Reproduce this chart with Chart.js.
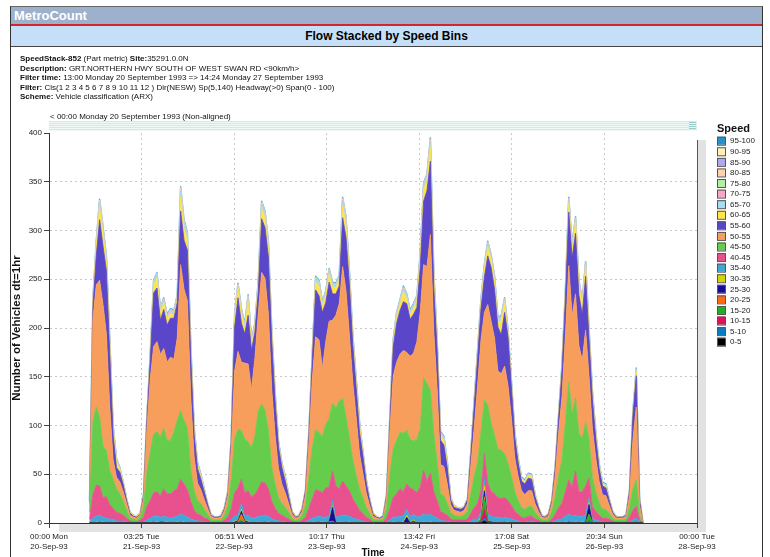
<!DOCTYPE html>
<html><head><meta charset="utf-8">
<script src="https://cdn.jsdelivr.net/npm/chart.js@4.4.1/dist/chart.umd.min.js"></script>
<style>
html,body{margin:0;padding:0;background:#fff;}
body{width:770px;height:557px;position:relative;overflow:hidden;font-family:"Liberation Sans",Arial,sans-serif;}
canvas{position:absolute;left:0;top:110px;}
#frame{position:absolute;left:10px;top:6px;width:751px;height:560px;border-left:1px solid #333;border-right:1px solid #333;border-top:1px solid #666;}
#hdr{position:absolute;left:11px;top:7px;width:751px;height:17px;background:#9DB1CC;color:#fff;font-weight:bold;font-size:13px;line-height:17px;padding-left:3px;box-sizing:border-box;}
#red{position:absolute;left:11px;top:24px;width:751px;height:2px;background:#D3262B;}
#ttl{position:absolute;left:11px;top:26px;width:751px;height:20px;background:#C6DFF8;border-bottom:1px solid #444;font-weight:bold;font-size:12px;line-height:20px;text-align:center;color:#000;}
#info{position:absolute;left:20px;top:54px;font-size:8px;line-height:9.6px;color:#111;white-space:nowrap;}
#nonal{position:absolute;left:50px;top:112px;font-size:8px;color:#111;white-space:nowrap;}
#scroll{position:absolute;left:49px;top:121px;width:648px;height:10px;background:repeating-linear-gradient(to bottom,#d3e8ea 0,#d3e8ea 1px,#f0f8f8 1px,#f0f8f8 2px);}
#sicon{position:absolute;left:689px;top:122px;width:7px;height:7px;background:repeating-linear-gradient(to bottom,#9cc 0,#9cc 1px,#e8f4f4 1px,#e8f4f4 2px);}
</style></head>
<body>
<canvas id="c" width="770" height="447"></canvas>
<div id="frame"></div>
<div id="hdr">MetroCount</div>
<div id="red"></div>
<div id="ttl">Flow Stacked by Speed Bins</div>
<div id="info">
<div><b>SpeedStack-852</b> (Part metric) <b>Site:</b>35291.0.0N</div>
<div><b>Description:</b> GRT.NORTHERN HWY SOUTH OF WEST SWAN RD &lt;90km/h&gt;</div>
<div><b>Filter time:</b> 13:00 Monday 20 September 1993 =&gt; 14:24 Monday 27 September 1993</div>
<div><b>Filter:</b> Cls(1 2 3 4 5 6 7 8 9 10 11 12 ) Dir(NESW) Sp(5,140) Headway(&gt;0) Span(0 - 100)</div>
<div><b>Scheme:</b> Vehicle classification (ARX)</div>
</div>
<div id="nonal">&lt; 00:00 Monday 20 September 1993 (Non-aligned)</div>
<div id="scroll"></div>
<div id="sicon"></div>
<script>
// hours after 00:00 Mon 20-Sep-93 of the first hourly bin
const START_HOUR = 12;

const bins = ['0-5','5-10','10-15','15-20','20-25','25-30','30-35','35-40','40-45','45-50',
              '50-55','55-60','60-65','65-70','70-75','75-80','80-85','85-90','90-95','95-100'];
const binColors = ['#000000','#0A7CC0','#E0105A','#22B022','#FF6A10','#1A0A98','#D4D400','#3FA8D8','#E8508E','#66CC4C',
                   '#F89E5C','#5A46C8','#FFE44A','#A9DCF0','#F6A8C8','#B4EEA4','#FFD2B0','#B0A8EE','#FFF2B4','#2A90CA'];

const tickHours = [0, 27.4333, 54.85, 82.2833, 109.7, 137.1333, 164.5667, 192];
const tickLabels = [['00:00 Mon','20-Sep-93'],['03:25 Tue','21-Sep-93'],['06:51 Wed','22-Sep-93'],['10:17 Thu','23-Sep-93'],
                    ['13:42 Fri','24-Sep-93'],['17:08 Sat','25-Sep-93'],['20:34 Sun','26-Sep-93'],['00:00 Tue','28-Sep-93']];

// each row = 10 hourly bins (h12-21, h22-31, ... h162-171, h172-176)
const s0_5 = [
0,0,0,0,0,0,0,0,0,0, 0,0,0,0,0,0,0,0,0,0, 0,0,0,0,0,0,0,0,0,0, 0,0,0,0,0,0,0,0,0,0,
0,0,0,0,0,0,0,0,0,0, 0,0,0,0,0,0,0,0,0,0, 0,0,0,0,0,0,0,0,0,0, 0,0,0,0,0,0,0,0,0,0,
0,0,0,0,0,0,0,0,0,0, 0,0,0,0,0,0,0,0,0,0, 0,0,0,0,0,0,0,0,0,0, 0,0,0,0,0,0,0,2,0,0,
0,0,0,0,0,0,0,0,0,0, 0,0,0,0,0,0,0,0,0,0, 0,0,0,0,0,0,0,0,0,0, 0,0,0,0,0,0,0,0,0,0,
0,0,0,0,0];
const s5_10 = [
0,0,0,0,0,0,0,0,0,0, 0,0,0,0,0,0,0,0,0,0, 0,0,0,0,0,0,0,0,0,0, 0,0,0,0,0,0,0,0,0,0,
0,0,0,0,0,1,0,0,0,0, 0,0,0,0,0,0,0,0,0,0, 0,0,0,0,0,0,0,0,0,0, 0,0,1,0,0,0,0,0,0,0,
0,0,0,0,0,0,0,0,0,0, 0,0,0,0,0,0,0,0,0,0, 0,0,0,0,0,0,0,0,0,0, 0,0,0,0,0,0,0,3,0,0,
0,0,0,0,0,0,0,0,0,0, 0,0,0,0,0,0,0,0,0,0, 0,0,0,0,0,0,0,0,1,0, 0,0,0,0,0,0,0,0,0,0,
0,0,0,0,0];
const s10_15 = [
0,0,0,0,0,0,0,0,0,0, 0,0,0,0,0,0,0,0,0,0, 0,0,0,0,0,0,0,0,0,0, 0,0,0,0,0,0,0,0,0,0,
0,0,0,0,0,1,0,0,0,0, 0,0,0,0,0,0,0,0,0,0, 0,0,0,0,0,0,0,0,0,0, 0,0,0,0,0,0,0,0,0,0,
0,0,0,0,0,0,0,0,0,0, 0,0,0,0,0,0,0,0,0,0, 0,0,0,0,0,0,0,0,0,0, 0,0,0,0,0,0,2,9,0,0,
0,0,0,0,0,0,0,0,0,0, 0,0,0,0,0,0,0,0,0,0, 0,0,0,0,0,0,0,0,1,0, 0,0,0,0,0,0,0,0,0,0,
0,0,0,0,0];
const s15_20 = [
0,0,0,0,0,0,0,0,0,0, 0,0,0,0,0,0,0,0,0,0, 0,0,0,0,0,0,0,0,0,0, 0,0,0,0,0,0,0,0,0,0,
0,0,0,0,1,1,0,0,0,0, 0,0,0,0,0,0,0,0,0,0, 0,0,0,0,0,0,0,0,0,0, 0,0,0,0,0,0,0,0,0,0,
0,0,0,0,0,0,0,0,0,0, 0,0,0,0,0,0,0,0,0,0, 0,0,0,0,0,0,0,0,0,0, 0,0,0,0,0,0,2,10,1,0,
0,0,0,0,0,0,0,0,0,0, 0,0,0,0,0,0,0,0,0,0, 0,0,0,0,0,0,0,0,7,0, 0,0,0,0,0,0,0,0,0,0,
0,0,0,0,0];
const s20_25 = [
0,0,0,1,0,0,0,0,0,0, 0,0,0,0,0,0,0,0,0,1, 0,0,1,0,0,0,0,1,0,0, 0,0,0,0,0,0,0,0,0,0,
0,0,0,0,0,6,1,0,0,0, 0,0,1,0,0,0,0,0,0,0, 0,0,0,0,0,0,0,0,1,0, 0,1,1,0,0,0,1,0,0,0,
0,0,0,0,0,0,0,0,0,0, 0,0,1,0,0,0,1,0,0,0, 0,0,1,0,0,0,0,0,0,0, 0,0,0,0,0,0,0,3,0,0,
0,0,0,1,0,0,0,0,0,0, 0,0,0,0,0,0,0,0,0,0, 0,0,0,0,0,1,0,0,0,0, 0,0,0,0,0,0,0,0,0,0,
0,0,1,0,0];
const s25_30 = [
0,0,0,0,0,0,0,0,0,0, 0,0,0,0,0,0,0,0,0,0, 0,1,0,0,0,0,0,0,0,0, 0,0,0,0,0,0,0,0,0,0,
0,0,0,1,1,3,1,1,0,0, 0,0,0,0,0,0,0,0,0,0, 0,0,0,0,0,0,0,0,0,0, 0,0,14,0,0,0,0,0,0,0,
0,0,0,0,0,0,0,0,0,0, 0,0,0,0,6,0,1,0,0,0, 0,0,0,0,0,0,0,0,0,0, 0,0,0,0,0,0,0,6,1,1,
0,0,0,0,0,0,0,0,0,0, 0,0,0,0,0,0,0,0,0,0, 0,0,1,0,0,0,0,1,10,0, 0,0,0,0,0,0,0,0,0,0,
0,0,0,0,0];
const s30_35 = [
0,0,1,0,1,0,0,1,0,0, 0,0,0,0,0,0,0,0,1,0, 1,0,0,1,0,0,1,0,1,0, 0,0,0,0,0,0,0,0,0,0,
0,0,0,1,0,2,0,1,0,0, 1,0,0,1,0,0,0,0,0,0, 0,0,0,0,0,0,1,0,0,1, 0,0,1,0,1,0,0,1,0,0,
0,0,0,0,0,0,0,0,0,0, 1,0,0,1,2,0,1,0,0,1, 0,1,0,0,0,0,0,0,0,0, 0,0,0,0,1,0,2,5,1,0,
0,1,0,0,1,0,0,0,0,0, 0,0,0,0,0,0,0,0,0,1, 0,1,0,0,1,0,1,0,2,0, 0,0,0,0,0,0,0,0,0,0,
0,0,0,0,0];
const s35_40 = [
1,5,6,7,5,5,4,3,2,2, 2,1,0,0,0,1,1,3,4,6, 6,5,6,5,5,6,6,8,7,6, 4,3,2,2,1,1,0,0,0,0,
1,1,3,5,6,6,5,6,5,5, 6,7,7,6,4,3,2,2,1,1, 0,0,0,1,1,3,4,6,6,5, 6,6,6,6,6,8,7,6,5,4,
3,2,1,1,0,0,0,0,1,3, 5,6,6,6,6,6,6,6,7,8, 8,8,6,5,3,2,2,1,1,1, 1,1,1,2,3,4,5,8,6,6,
6,5,5,5,4,4,3,2,1,1, 2,2,1,1,0,0,0,1,2,3, 4,6,8,7,7,6,6,7,5,4, 3,2,1,1,1,0,0,0,0,0,
1,3,4,1,0];
const s40_45 = [
3,24,32,30,20,22,15,11,9,8, 6,4,2,1,1,2,5,14,18,24, 25,22,28,24,25,27,28,36,32,28, 18,10,7,6,4,3,1,1,1,1,
2,5,12,24,28,25,24,25,22,24, 28,35,33,28,18,12,8,6,5,3, 2,1,1,2,5,12,20,28,26,25, 30,30,30,32,28,35,30,26,20,15,
10,8,5,3,1,1,1,1,4,12, 20,24,28,25,26,30,25,25,30,45, 35,42,25,18,9,8,6,3,2,2, 2,2,3,8,12,16,22,25,32,25,
24,20,20,20,18,14,9,7,5,4, 5,5,3,2,1,1,1,3,7,12, 16,25,35,30,45,25,25,30,20,13, 9,6,4,4,3,2,1,1,1,1,
5,10,12,2,0];
const s45_50 = [
7,75,80,71,53,47,35,30,24,20, 14,8,3,3,2,3,10,35,50,60, 62,60,62,55,55,60,70,70,65,64, 32,20,14,12,9,5,3,2,2,2,
5,12,30,55,60,50,55,50,50,60, 80,80,75,60,35,25,16,12,10,7, 3,2,3,5,12,32,52,62,60,58, 65,70,70,80,90,85,70,55,40,30,
22,16,10,6,3,2,2,3,10,35, 50,55,58,60,55,50,50,55,60,95, 100,85,60,40,18,18,12,7,5,4, 4,5,8,20,32,42,60,55,80,70,
60,50,50,45,38,30,20,14,10,9, 10,10,7,4,2,2,3,8,18,32, 45,70,100,75,75,60,55,65,40,30, 20,13,9,9,6,3,2,2,2,3,
10,22,27,5,0];
const s50_55 = [
7,105,125,140,145,120,65,20,12,12, 10,7,3,2,2,2,9,45,75,90, 92,85,82,80,85,75,85,150,135,130, 75,35,18,14,10,6,3,2,2,3,
5,10,32,70,80,70,78,80,60,80, 100,135,135,120,80,50,30,20,15,9, 4,2,2,4,11,35,70,95,95,70, 85,100,85,95,100,135,130,105,80,60,
36,25,15,8,3,2,1,2,10,45, 75,80,80,85,80,85,90,100,120,116, 120,160,105,75,30,30,20,8,5,5, 4,5,8,30,50,80,95,90,103,105,
100,80,78,90,80,60,35,25,17,15, 16,16,9,5,3,2,3,8,22,45, 65,90,120,100,107,90,80,95,65,50, 35,22,15,14,8,4,2,2,2,3,
12,50,75,10,0];
const s55_60 = [
3,12,30,62,60,65,55,25,10,10, 7,3,2,1,1,1,3,9,20,55, 55,35,40,38,40,42,36,55,50,52, 42,23,15,11,8,4,1,1,1,1,
2,3,8,45,55,40,30,50,40,27, 22,55,52,58,50,35,22,17,12,7, 2,1,1,2,4,9,20,48,45,57, 40,40,27,22,18,50,55,52,38,30,
22,18,10,5,2,1,1,1,3,10, 30,40,45,50,50,38,40,35,45,65, 78,75,45,40,25,22,17,5,3,3, 3,3,4,11,23,28,32,36,50,55,
50,45,40,55,50,32,21,14,10,11, 13,12,7,4,1,1,2,3,8,15, 27,38,55,60,62,52,47,55,38,30, 20,13,9,8,5,2,1,1,1,1,
5,25,32,5,0];
const s60_65 = [
1,4,10,13,13,9,9,5,6,3, 2,1,1,1,1,1,1,1,3,8, 10,7,7,6,5,3,3,15,12,10, 7,4,3,3,2,1,1,0,0,1,
1,1,1,8,10,10,5,15,6,5, 6,10,10,9,7,5,3,3,3,2, 1,1,1,1,1,1,3,8,10,6, 7,8,7,6,6,12,13,8,6,5,
7,3,2,1,1,1,0,1,1,2, 4,6,6,10,5,4,6,7,10,12, 10,15,10,6,5,5,4,2,2,1, 1,1,1,2,3,4,5,8,9,8,
9,5,14,10,4,4,3,3,2,2, 3,3,2,1,1,1,1,1,1,2, 3,5,9,9,12,10,10,10,6,5, 4,3,2,2,1,1,1,0,0,1,
1,2,4,1,0];
const s65_70 = [
0,2,3,4,4,3,3,3,2,1, 1,1,0,0,0,0,0,1,2,3, 3,3,3,3,3,3,3,5,5,4, 3,2,2,1,1,0,0,0,0,0,
0,1,1,3,3,3,3,4,3,2, 3,4,4,4,3,2,2,1,1,1, 0,0,0,0,0,1,2,3,3,3, 3,3,3,3,3,5,5,3,3,3,
2,1,1,1,0,0,0,0,0,1, 2,3,3,4,3,3,3,3,4,4, 4,4,4,3,2,2,2,1,0,0, 0,0,0,1,2,2,3,3,4,3,
3,3,4,3,2,2,2,1,1,1, 1,1,1,0,0,0,0,0,1,1, 2,2,3,3,3,3,3,3,3,2, 2,1,1,1,1,0,0,0,0,0,
0,1,2,1,0];
const s70_75 = [
0,1,1,1,1,1,1,1,0,0, 0,0,0,0,0,0,0,0,0,1, 1,1,1,1,1,1,1,1,1,1, 1,1,0,0,0,0,0,0,0,0,
0,0,0,1,1,1,1,1,1,1, 1,1,1,1,1,1,0,0,0,0, 0,0,0,0,0,0,1,1,1,1, 1,1,1,1,1,1,1,1,1,1,
1,0,0,0,0,0,0,0,0,0, 1,1,1,1,1,1,1,1,1,1, 1,1,1,1,1,1,0,0,0,0, 0,0,0,0,0,1,1,1,1,1,
1,1,1,1,1,0,0,0,0,0, 0,0,0,0,0,0,0,0,0,0, 0,1,1,1,1,1,1,1,1,1, 0,0,0,0,0,0,0,0,0,0,
0,0,1,0,0];
const s75_80 = [
0,0,0,1,1,1,1,0,0,0, 0,0,0,0,0,0,0,0,0,0, 1,0,0,0,0,0,0,1,1,1, 1,0,0,0,0,0,0,0,0,0,
0,0,0,0,0,0,0,0,0,0, 0,1,1,1,0,0,0,0,0,0, 0,0,0,0,0,0,0,1,1,0, 0,1,0,0,0,1,1,1,0,0,
0,0,0,0,0,0,0,0,0,0, 0,0,0,0,0,0,0,0,0,1, 1,1,1,0,0,0,0,0,0,0, 0,0,0,0,0,0,0,0,0,0,
0,0,0,0,0,0,0,0,0,0, 0,0,0,0,0,0,0,0,0,0, 0,0,0,0,0,0,0,0,0,0, 0,0,0,0,0,0,0,0,0,0,
0,0,0,0,0];
const s80_85 = [
0,0,0,1,0,0,0,0,0,0, 0,0,0,0,0,0,0,0,0,0, 0,0,0,0,0,0,0,1,0,0, 0,0,0,0,0,0,0,0,0,0,
0,0,0,0,0,0,0,0,0,0, 0,1,0,0,0,0,0,0,0,0, 0,0,0,0,0,0,0,0,0,0, 0,0,0,0,0,1,0,0,0,0,
0,0,0,0,0,0,0,0,0,0, 0,0,0,0,0,0,0,0,0,0, 0,1,0,0,0,0,0,0,0,0, 0,0,0,0,0,0,0,0,0,0,
0,0,0,0,0,0,0,0,0,0, 0,0,0,0,0,0,0,0,0,0, 0,0,1,0,0,0,0,0,0,0, 0,0,0,0,0,0,0,0,0,0,
0,0,0,0,0];
const s85_90 = [
0,0,0,0,0,0,0,0,0,0, 0,0,0,0,0,0,0,0,0,0, 0,0,0,0,0,0,0,0,0,0, 0,0,0,0,0,0,0,0,0,0,
0,0,0,0,0,0,0,0,0,0, 0,0,0,0,0,0,0,0,0,0, 0,0,0,0,0,0,0,0,0,0, 0,0,0,0,0,0,0,0,0,0,
0,0,0,0,0,0,0,0,0,0, 0,0,0,0,0,0,0,0,0,0, 0,1,0,0,0,0,0,0,0,0, 0,0,0,0,0,0,0,0,0,0,
0,0,0,0,0,0,0,0,0,0, 0,0,0,0,0,0,0,0,0,0, 0,0,0,0,0,0,0,0,0,0, 0,0,0,0,0,0,0,0,0,0,
0,0,0,0,0];
const s90_95 = [
0,0,0,0,0,0,0,0,0,0, 0,0,0,0,0,0,0,0,0,0, 0,0,0,0,0,0,0,1,1,1, 0,0,0,0,0,0,0,0,0,0,
0,0,0,0,0,0,0,0,0,0, 0,0,0,0,0,0,0,0,0,0, 0,0,0,0,0,0,0,0,0,0, 0,0,0,0,0,0,0,0,0,0,
0,0,0,0,0,0,0,0,0,0, 0,0,0,0,0,0,0,0,0,0, 0,0,0,0,0,0,0,0,0,0, 0,0,0,0,0,0,0,0,0,0,
0,0,0,0,0,0,0,0,0,0, 0,0,0,0,0,0,0,0,0,0, 0,0,0,0,0,0,0,0,0,0, 0,0,0,0,0,0,0,0,0,0,
0,0,0,0,0];
const s95_100 = [
0,1,1,1,1,1,1,1,1,1, 0,0,0,0,0,0,0,1,1,1, 1,1,1,1,1,1,1,1,1,1, 1,1,1,1,0,0,0,0,0,0,
0,0,1,1,1,1,1,1,1,1, 1,1,1,1,1,1,1,1,1,0, 0,0,0,0,0,1,1,1,1,1, 1,1,1,1,1,1,1,1,1,1,
1,1,1,0,0,0,0,0,0,1, 1,1,1,1,1,1,1,1,1,1, 1,1,1,1,1,1,1,0,0,0, 0,0,0,0,1,1,1,1,1,1,
1,1,1,1,1,1,1,1,1,1, 1,1,0,0,0,0,0,0,0,1, 1,1,1,1,1,1,1,1,1,1, 1,1,1,1,0,0,0,0,0,0,
0,1,1,0,0];

const series = [s0_5,s5_10,s10_15,s15_20,s20_25,s25_30,s30_35,s35_40,s40_45,s45_50,
                s50_55,s55_60,s60_65,s65_70,s70_75,s75_80,s80_85,s85_90,s90_95,s95_100];

const FONT = '"Liberation Sans", Arial, sans-serif';
Chart.defaults.font.family = FONT;

const datasets = bins.map((b, i) => ({
  label: b,
  data: series[i].map((v, j) => ({x: START_HOUR + j, y: v})),
  backgroundColor: binColors[i],
  borderColor: i === bins.length - 1 ? '#55B4DE' : binColors[i],
  borderWidth: i === bins.length - 1 ? 1.5 : 0.8,
  fill: i === 0 ? 'origin' : '-1',
  pointRadius: 0,
  tension: 0
}));

const decor = {
  id: 'decor',
  beforeDraw(chart) {
    const {ctx, chartArea: a} = chart;
    ctx.save();
    ctx.fillStyle = '#E2E2E2';
    ctx.fillRect(a.left + 10, a.top + 7, a.right - a.left - 1, a.bottom - a.top + 2);
    ctx.fillStyle = '#FFFFFF';
    ctx.fillRect(a.left, a.top, a.right - a.left, a.bottom - a.top);
    ctx.restore();
  },
  afterDraw(chart) {
    const {ctx, chartArea: a} = chart;
    ctx.save();
    ctx.strokeStyle = '#555';
    ctx.lineWidth = 1;
    ctx.beginPath();
    ctx.moveTo(a.right + 0.5, a.top + 7);
    ctx.lineTo(a.right + 0.5, a.bottom);
    ctx.stroke();
    // legend
    const x0 = a.right + 20;
    ctx.fillStyle = '#111';
    ctx.font = 'bold 11px ' + FONT;
    ctx.textBaseline = 'middle';
    ctx.textAlign = 'left';
    ctx.fillText('Speed', x0, 18.5);
    ctx.font = '8px ' + FONT;
    const n = bins.length;
    for (let k = 0; k < n; k++) {
      const i = n - 1 - k;
      const y = 26.7 + k * 10.58;
      ctx.fillStyle = binColors[i];
      ctx.fillRect(x0, y, 8, 8);
      ctx.strokeStyle = '#555';
      ctx.strokeRect(x0 + 0.5, y + 0.5, 8, 8);
      ctx.fillStyle = '#222';
      ctx.fillText(bins[i], x0 + 13, y + 4.5);
    }
    ctx.restore();
  }
};

new Chart(document.getElementById('c'), {
  type: 'line',
  data: {datasets},
  options: {
    responsive: false,
    animation: false,
    devicePixelRatio: 1,
    layout: {padding: {top: 23, right: 73, left: 0, bottom: 0}},
    plugins: {legend: {display: false}, tooltip: {enabled: false}},
    elements: {line: {borderJoinStyle: 'round'}},
    scales: {
      x: {
        type: 'linear', min: 0, max: 192,
        afterFit: s => { s.height = 34; },
        afterBuildTicks: s => { s.ticks = tickHours.map(v => ({value: v})); },
        ticks: {
          autoSkip: false, maxRotation: 0, padding: 3, color: '#222',
          font: {size: 8, lineHeight: 1.35},
          callback: (v, i) => tickLabels[i]
        },
        grid: {
          color: c => (c.index === 0 || c.index === tickHours.length - 1) ? 'rgba(0,0,0,0)' : '#C8C8C8',
          tickColor: '#444', tickLength: 5, lineWidth: 1
        },
        border: {display: true, color: '#333', width: 1, dash: [2, 3]},
        title: {display: true, text: 'Time', color: '#111', font: {size: 10, weight: 'bold', lineHeight: 1.2}, padding: {top: 0, bottom: -2}}
      },
      y: {
        stacked: true, min: 0, max: 400,
        afterFit: s => { s.width = 49; },
        ticks: {stepSize: 50, padding: 2, color: '#222', font: {size: 8}},
        grid: {
          color: c => (c.tick && (c.tick.value === 0 || c.tick.value === 400)) ? 'rgba(0,0,0,0)' : '#C8C8C8',
          tickColor: '#444', tickLength: 5, lineWidth: 1
        },
        border: {display: true, color: '#333', width: 1, dash: [2, 3]},
        title: {display: true, text: 'Number of Vehicles dt=1hr', color: '#111', font: {size: 11.5, weight: 'bold', lineHeight: 1.2}, padding: {top: 10, bottom: 0}}
      }
    }
  },
  plugins: [decor]
});
</script>
</body></html>
